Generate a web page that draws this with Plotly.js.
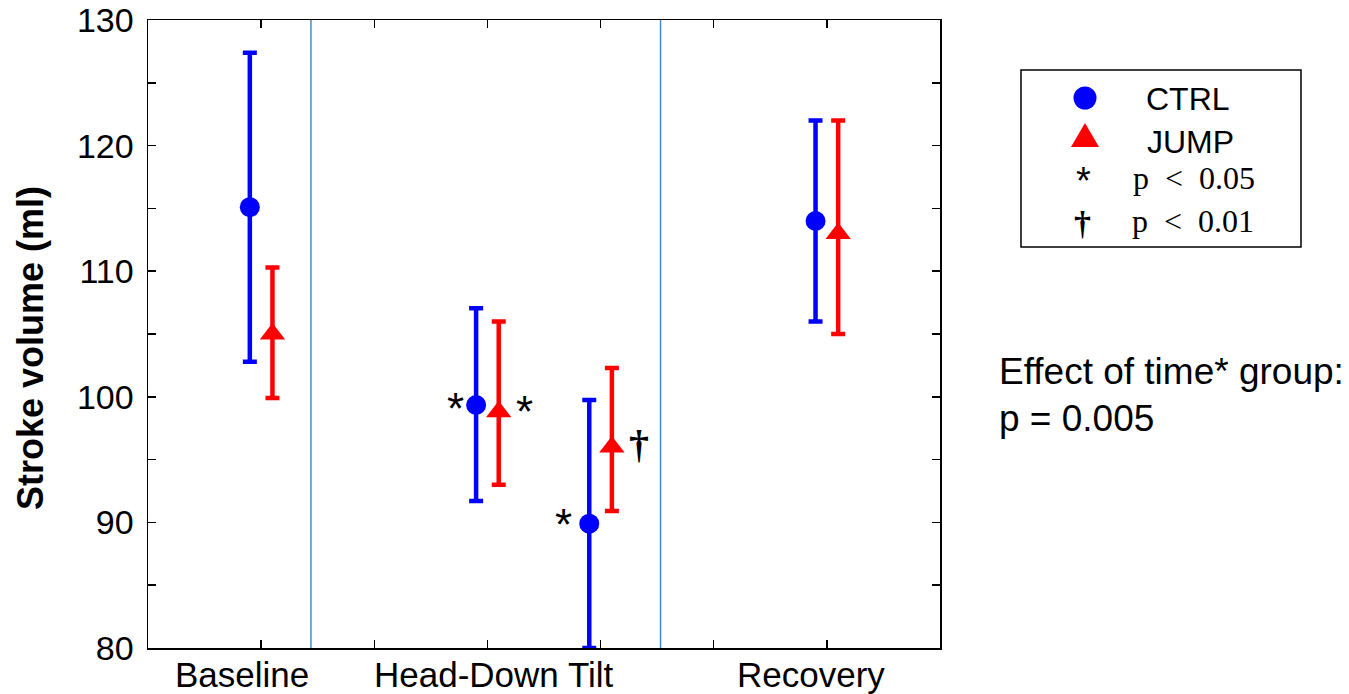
<!DOCTYPE html>
<html>
<head>
<meta charset="utf-8">
<script src="https://cdn.plot.ly/plotly-3.0.1.min.js"></script>
<style>html,body{margin:0;padding:0;background:#fff;}#chart{width:1349px;height:694px;}</style>
</head>
<body>
<div id="chart"></div>
<script>
// ---- data ----
var phases = ['Baseline', 'Head-Down Tilt', 'Recovery'];
var phaseLabelX = [0.83, 3.06, 5.86];
var separatorX = [1.44, 4.53];

var ctrlX = [0.9, 2.9, 3.9, 5.9];
var ctrlMean = [115.1, 99.35, 89.9, 114.0];
var ctrlUpper = [127.4, 107.05, 99.75, 122.0];
var ctrlLower = [102.8, 91.7, 80.0, 106.0];

var jumpX = [1.1, 3.1, 4.1, 6.1];
var jumpMean = [105.0, 98.8, 96.0, 113.0];
var jumpUpper = [110.3, 106.0, 102.3, 122.0];
var jumpLower = [99.9, 93.0, 90.9, 105.0];

// significance marks: [x, y, symbol]
var sigX = [2.72, 3.33, 3.675, 4.34];
var sigY = [99.9, 99.6, 90.6, 96.2];
var sigText = ['*', '*', '*', '\u2020'];

var yTicks = [80, 90, 100, 110, 120, 130];
var xTicks = [1, 2, 3, 4, 5, 6];

// ---- helpers ----
function diff(a, b) { return a.map(function (v, i) { return v - b[i]; }); }
var L = 148, T = 20, W = 792, H = 628;
function px(x) { return (x - L) / W; }
function py(y) { return (T + H - y) / H; }
var sans = 'Liberation Sans, Arial, Helvetica, sans-serif';
var serif = 'Liberation Serif, DejaVu Serif, Times New Roman, serif';

var ctrl = {
  type: 'scatter', mode: 'markers', name: 'CTRL', x: ctrlX, y: ctrlMean,
  marker: {symbol: 'circle', size: 20, color: '#0000ff'},
  error_y: {type: 'data', symmetric: false, array: diff(ctrlUpper, ctrlMean),
    arrayminus: diff(ctrlMean, ctrlLower), color: '#0000ff', thickness: 4.5, width: 7},
  cliponaxis: false, showlegend: false, hoverinfo: 'x+y'
};
var jump = {
  type: 'scatter', mode: 'markers', name: 'JUMP', x: jumpX, y: jumpMean,
  marker: {symbol: 'triangle-up', size: 22, color: '#ff0000'},
  error_y: {type: 'data', symmetric: false, array: diff(jumpUpper, jumpMean),
    arrayminus: diff(jumpMean, jumpLower), color: '#ff0000', thickness: 4.5, width: 7},
  cliponaxis: false, showlegend: false, hoverinfo: 'x+y'
};

var shapes = separatorX.map(function (x) {
  return {type: 'line', xref: 'x', yref: 'paper', x0: x, x1: x, y0: 0, y1: 1,
    line: {color: '#3f8fcf', width: 1.5}, layer: 'below'};
});
// legend box
shapes.push({type: 'rect', xref: 'paper', yref: 'paper', x0: px(1021), x1: px(1301),
  y0: py(247), y1: py(70), line: {color: '#000', width: 1.5}, fillcolor: 'rgba(0,0,0,0)'});
// legend circle
shapes.push({type: 'circle', xref: 'paper', yref: 'paper', xsizemode: 'pixel', ysizemode: 'pixel',
  xanchor: px(1085), yanchor: py(98), x0: -11.5, x1: 11.5, y0: -11.5, y1: 11.5,
  fillcolor: '#0000ff', line: {width: 0}});
// legend triangle
shapes.push({type: 'path', xref: 'paper', yref: 'paper', xsizemode: 'pixel', ysizemode: 'pixel',
  xanchor: px(1085), yanchor: py(139), path: 'M-14,-8 L14,-8 L0,16 Z',
  fillcolor: '#ff0000', line: {width: 0}});

var annotations = [];
phases.forEach(function (p, i) {
  annotations.push({text: p, xref: 'x', yref: 'paper', x: phaseLabelX[i], y: 0,
    xanchor: 'center', yanchor: 'top', yshift: -5, showarrow: false,
    font: {family: sans, size: 35, color: '#000'}});
});
sigText.forEach(function (s, i) {
  var star = s === '*';
  annotations.push({text: star ? s : '<b>' + s + '</b>', xref: 'x', yref: 'y', x: sigX[i], y: sigY[i],
    xanchor: 'center', yanchor: 'middle', yshift: (star ? -10 : 0), showarrow: false,
    font: {family: star ? sans : serif, size: star ? 44 : 40, color: '#000'}});
});
// y axis title
annotations.push({text: '<b>Stroke volume (ml)</b>', xref: 'paper', yref: 'paper', x: px(30), y: py(348),
  xanchor: 'center', yanchor: 'middle', textangle: -90, showarrow: false,
  font: {family: sans, size: 36, color: '#000'}});
// legend texts
annotations.push({text: 'CTRL', xref: 'paper', yref: 'paper', x: px(1188), y: py(99),
  xanchor: 'center', yanchor: 'middle', showarrow: false, font: {family: sans, size: 32, color: '#000'}});
annotations.push({text: 'JUMP', xref: 'paper', yref: 'paper', x: px(1190), y: py(142),
  xanchor: 'center', yanchor: 'middle', showarrow: false, font: {family: sans, size: 32, color: '#000'}});
annotations.push({text: '*', xref: 'paper', yref: 'paper', x: px(1083), y: py(173),
  xanchor: 'center', yanchor: 'middle', yshift: -8, showarrow: false, font: {family: sans, size: 38, color: '#000'}});
annotations.push({text: '<b>\u2020</b>', xref: 'paper', yref: 'paper', x: px(1082), y: py(223),
  xanchor: 'center', yanchor: 'middle', showarrow: false, font: {family: serif, size: 34, color: '#000'}});
annotations.push({text: 'p\u2002&lt;\u20020.05', xref: 'paper', yref: 'paper', x: px(1194), y: py(178),
  xanchor: 'center', yanchor: 'middle', showarrow: false, font: {family: serif, size: 32, color: '#000'}});
annotations.push({text: 'p\u2002&lt;\u20020.01', xref: 'paper', yref: 'paper', x: px(1193), y: py(221),
  xanchor: 'center', yanchor: 'middle', showarrow: false, font: {family: serif, size: 32, color: '#000'}});
// effect text
annotations.push({text: 'Effect of time* group:', xref: 'paper', yref: 'paper', x: px(997), y: py(371),
  xanchor: 'left', yanchor: 'middle', showarrow: false, font: {family: sans, size: 37, color: '#000'}});
annotations.push({text: 'p = 0.005', xref: 'paper', yref: 'paper', x: px(997), y: py(418),
  xanchor: 'left', yanchor: 'middle', showarrow: false, font: {family: sans, size: 37, color: '#000'}});

var layout = {
  width: 1349, height: 694,
  margin: {l: L, r: 1349 - L - W, t: T, b: 694 - T - H, pad: 0},
  paper_bgcolor: '#fff', plot_bgcolor: '#fff',
  showlegend: false,
  xaxis: {range: [0, 7], tickvals: xTicks, ticktext: xTicks.map(function () { return ''; }),
    ticks: 'inside', ticklen: 8, tickwidth: 1.5, tickcolor: '#000',
    showline: true, linecolor: '#000', linewidth: 1.5, mirror: 'ticks',
    showgrid: false, zeroline: false, fixedrange: true},
  yaxis: {range: [80, 130], tickvals: yTicks, ticks: 'inside', ticklen: 8, tickwidth: 1.5, tickcolor: '#000',
    minor: {dtick: 5, tick0: 80, ticks: 'inside', ticklen: 8, tickwidth: 1.5, tickcolor: '#000', showgrid: false},
    showline: true, linecolor: '#000', linewidth: 1.5, mirror: 'ticks',
    showgrid: false, zeroline: false, fixedrange: true,
    tickfont: {family: sans, size: 34, color: '#000'}, ticklabelstandoff: 6},
  shapes: shapes,
  annotations: annotations
};

Plotly.newPlot('chart', [ctrl, jump], layout, {displayModeBar: false, staticPlot: true});
</script>
</body>
</html>
